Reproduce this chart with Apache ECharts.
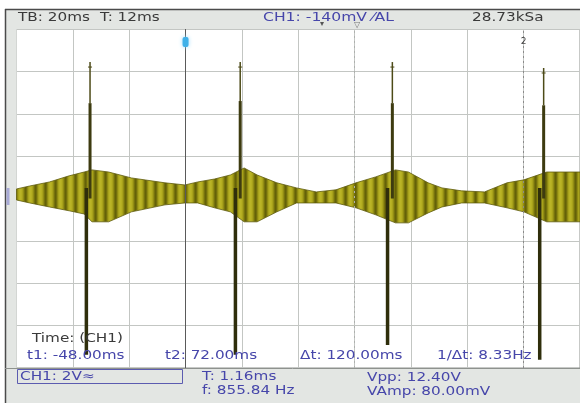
<!DOCTYPE html>
<html><head><meta charset="utf-8">
<script src="https://cdn.jsdelivr.net/npm/echarts@6/dist/echarts.min.js"></script>
<style>html,body{margin:0;padding:0;background:#fff}#c{width:580px;height:403px}</style>
</head><body><div id="c"></div>
<script>
// ---- axes (screen time in ms from left edge, 20 ms/div; volts, 2 V/div) ----
const xMin = 0, xMax = 200, xStep = 20;
const yMin = -8, yMax = 8, yStep = 2;

// ---- envelope of the modulated carrier ----
const envT  = [0, 4.7, 11.7, 18.7, 24.0, 26.8, 32.7, 40.8, 52.7, 59.8, 64.3, 70.3, 75.9, 80.8, 85.4, 92.4, 99.4, 106.4, 113.4, 120.5, 127.5, 134.5, 139.1, 146.1, 151.0, 158.0, 166.1, 174.1, 180.1, 188.2, 200];
const envHi = [0.45, 0.59, 0.78, 1.07, 1.25, 1.35, 1.25, 0.97, 0.74, 0.64, 0.78, 0.92, 1.11, 1.44, 1.11, 0.74, 0.50, 0.31, 0.41, 0.74, 1.02, 1.35, 1.25, 0.74, 0.50, 0.36, 0.31, 0.74, 0.88, 1.25, 1.25];
const envLo = [-0.07, -0.21, -0.40, -0.58, -0.73, -1.10, -1.10, -0.63, -0.30, -0.21, -0.21, -0.44, -0.63, -1.10, -1.10, -0.63, -0.21, -0.21, -0.21, -0.44, -0.77, -1.15, -1.15, -0.68, -0.40, -0.21, -0.21, -0.44, -0.63, -1.10, -1.10];

// ---- spikes ----
const spikeUpT   = [26.1, 79.4, 133.4, 187.1];
const spikeDownT = [24.8, 77.7, 131.7, 185.7];
const spikeTopV  = [6.44, 6.44, 6.44, 6.16];
const spikeKneeV = [4.5, 4.6, 4.5, 4.4];
const spikeBotV  = [-7.38, -7.38, -6.91, -7.61];

// ---- cursors ----
const cursorT = [60, 180];      // t1 = -48 ms, t2 = 72 ms
const triggerT = 120;

// ---- readouts ----
const headerTexts = ['TB: 20ms', 'T: 12ms', 'CH1: -140mV \u2044AL', '28.73kSa'];
const cursorTexts = ['Time: (CH1)', 't1: -48.00ms', 't2: 72.00ms', '\u0394t: 120.00ms', '1/\u0394t: 8.33Hz'];
const measTexts   = ['CH1: 2V\u2248', 'T: 1.16ms', 'f: 855.84 Hz', 'Vpp: 12.40V', 'VAmp: 80.00mV'];

const DARK = '#3a3a3a', BLUE = '#4646aa';
const FONT = '12px "DejaVu Sans", sans-serif';

function stripes() {
  const c = document.createElement('canvas'); c.width = 10; c.height = 4;
  const g = c.getContext('2d');
  const cols = ['#bab427', '#b5af22', '#a8a21b', '#918c13', '#76720c', '#646109', '#726e0b', '#8f8a12', '#a9a31c', '#b6b024'];
  cols.forEach((col, i) => { g.fillStyle = col; g.fillRect(i, 0, 1, 4); });
  return c;
}
const stripeCanvas = stripes();

function txt(s, x, y, color, sx) {
  return { type: 'text', x: x, y: y, scaleX: sx || 1.27, z: 10,
    style: { text: s, font: FONT, fill: color, verticalAlign: 'middle', textVerticalAlign: 'middle' } };
}

const chart = echarts.init(document.getElementById('c'), null, { renderer: 'canvas', width: 580, height: 403 });

const graphics = [
  { type: 'rect', z: 1, shape: { x: 5, y: 9, width: 575, height: 20 }, style: { fill: '#e3e6e3' } },
  { type: 'rect', z: 1, shape: { x: 5, y: 29, width: 11.5, height: 340 }, style: { fill: '#e3e6e3' } },
  { type: 'rect', z: 1, shape: { x: 5, y: 368, width: 575, height: 35 }, style: { fill: '#e3e6e3' } },
  { type: 'line', z: 2, shape: { x1: 5, y1: 9.5, x2: 580, y2: 9.5 }, style: { stroke: '#4a4a4a', lineWidth: 1.5 } },
  { type: 'line', z: 2, shape: { x1: 5.5, y1: 9, x2: 5.5, y2: 403 }, style: { stroke: '#4a4a4a', lineWidth: 1.5 } },
  { type: 'line', z: 2, shape: { x1: 5, y1: 368.5, x2: 580, y2: 368.5 }, style: { stroke: '#8e928e', lineWidth: 1 } },
  { type: 'rect', z: 2, shape: { x: 17.5, y: 369.5, width: 165, height: 14 }, style: { fill: 'none', stroke: '#5c5cb0', lineWidth: 1 } },
  { type: 'rect', z: 2, shape: { x: 6.5, y: 188, width: 3, height: 17 }, style: { fill: '#a8aad6' } },
  { type: 'text', z: 10, x: 322, y: 24, style: { text: '\u25BE', font: '8px "DejaVu Sans"', fill: '#555', align: 'center', verticalAlign: 'middle', textAlign: 'center', textVerticalAlign: 'middle' } },
  { type: 'text', z: 10, x: 357, y: 25, style: { text: '\u25BD', font: '8px "DejaVu Sans"', fill: '#777', align: 'center', verticalAlign: 'middle', textAlign: 'center', textVerticalAlign: 'middle' } },
  txt(headerTexts[0], 18, 17.5, DARK),
  txt(headerTexts[1], 100, 17.5, DARK),
  txt(headerTexts[2], 263, 17.5, BLUE, 1.3),
  txt(headerTexts[3], 472, 17.5, DARK),
  txt(cursorTexts[0], 32, 339, DARK),
  txt(cursorTexts[1], 27, 356, BLUE),
  txt(cursorTexts[2], 165, 356, BLUE),
  txt(cursorTexts[3], 300, 356, BLUE),
  txt(cursorTexts[4], 437, 356, BLUE),
  txt(measTexts[0], 20, 377, BLUE),
  txt(measTexts[1], 202, 377, BLUE),
  txt(measTexts[2], 202, 391, BLUE),
  txt(measTexts[3], 367, 378, BLUE),
  txt(measTexts[4], 367, 392, BLUE)
];

const option = {
  animation: false,
  backgroundColor: '#ffffff',
  grid: { left: 16.5, top: 29, width: 570, height: 339, show: true, borderColor: '#8f938f', borderWidth: 1, backgroundColor: 'transparent' },
  xAxis: { type: 'value', min: xMin, max: xMax, interval: xStep,
    axisLine: { show: false }, axisTick: { show: false }, axisLabel: { show: false },
    splitLine: { show: true, lineStyle: { color: '#c3c6c3', width: 1 } } },
  yAxis: { type: 'value', min: yMin, max: yMax, interval: yStep,
    axisLine: { show: false }, axisTick: { show: false }, axisLabel: { show: false },
    splitLine: { show: true, lineStyle: { color: '#c3c6c3', width: 1 } } },
  graphic: graphics,
  series: [
    { type: 'line', data: [], silent: true, z: 1,
      markLine: { symbol: 'none', silent: true, animation: false, label: { show: false },
        data: [
          { xAxis: cursorT[0], lineStyle: { color: '#5a5a5a', width: 1, type: 'solid' } },
          { xAxis: cursorT[1], lineStyle: { color: '#8a8a8a', width: 1, type: [2, 3] } },
          { xAxis: triggerT, lineStyle: { color: '#aeb0ae', width: 1, type: [2, 3] } }
        ] } },
    { type: 'custom', z: 3, clip: true,
      data: envT.map((t, i) => [t, envHi[i], envLo[i]]),
      encode: { x: 0, y: [1, 2] },
      renderItem: function (p, api) {
        if (p.dataIndex !== 0) return null;
        const up = envT.map((t, i) => api.coord([t, envHi[i]]));
        const dn = envT.map((t, i) => api.coord([t, envLo[i]])).reverse();
        return { type: 'polygon', shape: { points: up.concat(dn) },
          style: { fill: { image: stripeCanvas, repeat: 'repeat' }, stroke: '#5f5c0c', lineWidth: 0.8 } };
      } },
    { type: 'custom', z: 4, clip: true,
      data: spikeUpT.map((t, i) => [t, spikeTopV[i], spikeKneeV[i], spikeDownT[i], spikeBotV[i]]),
      encode: { x: [0, 3], y: [1, 2, 4] },
      renderItem: function (p, api) {
        const tu = api.value(0), top = api.value(1), knee = api.value(2), td = api.value(3), bot = api.value(4);
        const a = api.coord([tu, top]), b = api.coord([tu, knee]), c = api.coord([tu, 0]);
        const d = api.coord([td, 0.5]), e = api.coord([td, bot]);
        return { type: 'group', children: [
          { type: 'line', shape: { x1: a[0], y1: a[1], x2: b[0], y2: b[1] }, style: { stroke: '#4d4b18', lineWidth: 1.5 } },
          { type: 'line', shape: { x1: a[0] - 2, y1: a[1] + 5, x2: a[0] + 2, y2: a[1] + 5 }, style: { stroke: '#4d4b18', lineWidth: 1 } },
          { type: 'line', shape: { x1: b[0], y1: b[1], x2: c[0], y2: c[1] }, style: { stroke: '#3d3b10', lineWidth: 3 } },
          { type: 'line', shape: { x1: d[0], y1: d[1], x2: e[0], y2: e[1] }, style: { stroke: '#2f2e0b', lineWidth: 3.5 } }
        ] };
      } }
  ]
};
chart.setOption(option);

// cursor markers placed through the chart's own scale
const p1 = chart.convertToPixel({ gridIndex: 0 }, [cursorT[0], yMax]);
const p2 = chart.convertToPixel({ gridIndex: 0 }, [cursorT[1], yMax]);
chart.setOption({ graphic: graphics.concat([
  { type: 'rect', z: 11, shape: { x: p1[0] - 3, y: p1[1] + 8, width: 6, height: 10, r: 2 },
    style: { fill: '#3fb0e8', shadowBlur: 4, shadowColor: '#9fdcff' } },
  { type: 'text', z: 11, x: p2[0], y: p2[1] + 13, style: { text: '2', font: '9px "DejaVu Sans"', fill: '#444',
    align: 'center', verticalAlign: 'middle', textAlign: 'center', textVerticalAlign: 'middle' } }
]) });
</script>
</body></html>
